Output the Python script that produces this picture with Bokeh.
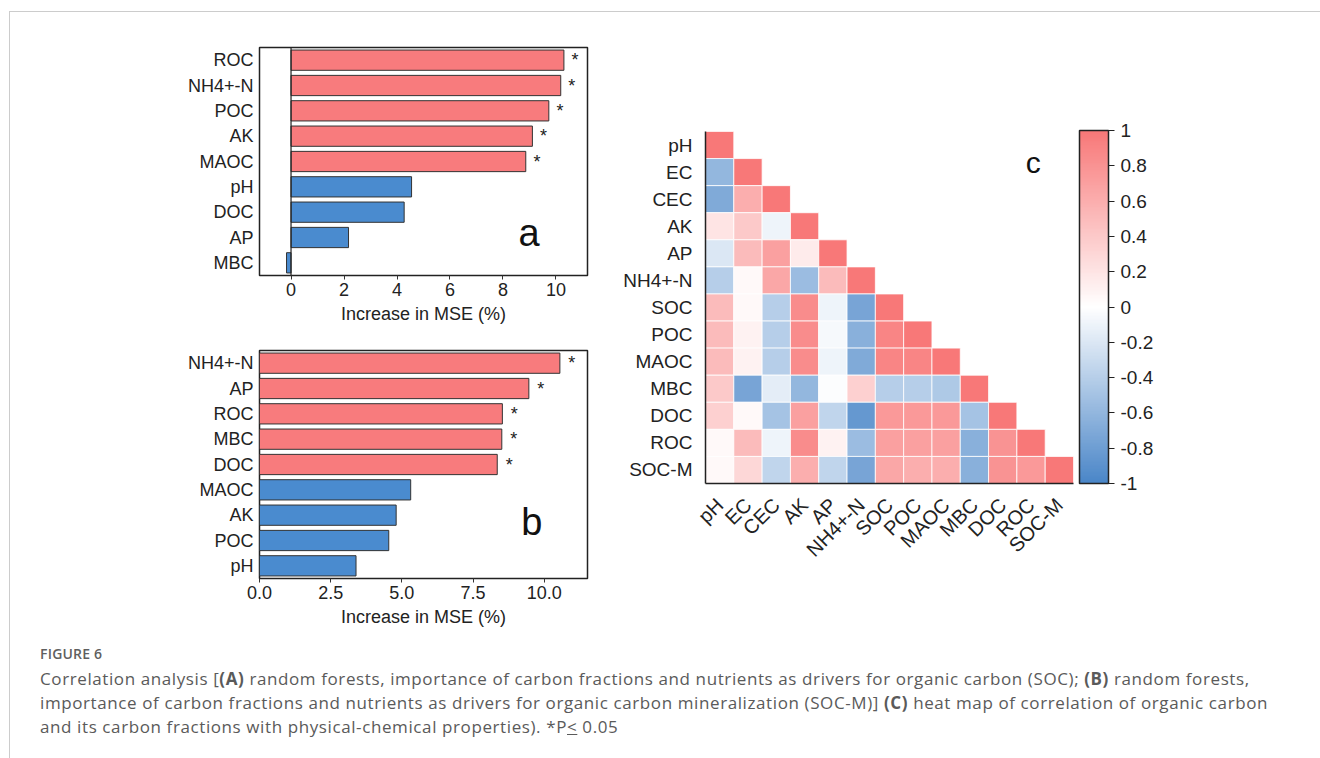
from bokeh.plotting import figure
from bokeh.models import (FactorRange, Range1d, Span, Label, ColorBar, LinearColorMapper,
                          FixedTicker, ColumnDataSource, Div)
from bokeh.layouts import column, row
from bokeh.embed import file_html
from bokeh.resources import INLINE
from bokeh.core.properties import value
import math

# ---------------- data ----------------
a_vars = ["ROC", "NH4+-N", "POC", "AK", "MAOC", "pH", "DOC", "AP", "MBC"]
a_vals = [10.30, 10.18, 9.73, 9.11, 8.86, 4.55, 4.27, 2.17, -0.17]
a_sig = [True, True, True, True, True, False, False, False, False]

b_vars = ["NH4+-N", "AP", "ROC", "MBC", "DOC", "MAOC", "AK", "POC", "pH"]
b_vals = [10.55, 9.46, 8.53, 8.51, 8.35, 5.31, 4.80, 4.54, 3.39]
b_sig = [True, True, True, True, True, False, False, False, False]

c_vars = ["pH", "EC", "CEC", "AK", "AP", "NH4+-N", "SOC", "POC", "MAOC", "MBC", "DOC", "ROC", "SOC-M"]
c_rows = [
    [1],
    [-0.60, 1],
    [-0.70, 0.60, 1],
    [0.20, 0.40, -0.10, 1],
    [-0.20, 0.50, 0.70, 0.15, 1],
    [-0.40, 0.05, 0.65, -0.55, 0.50, 1],
    [0.50, 0.05, -0.40, 0.85, -0.10, -0.75, 1],
    [0.50, 0.10, -0.40, 0.85, -0.05, -0.65, 0.90, 1],
    [0.50, 0.10, -0.40, 0.85, -0.10, -0.70, 0.90, 0.90, 1],
    [0.40, -0.75, -0.15, -0.60, -0.02, 0.35, -0.40, -0.40, -0.45, 1],
    [0.35, 0.05, -0.50, 0.70, -0.35, -0.85, 0.75, 0.75, 0.75, -0.50, 1],
    [0.05, 0.50, -0.10, 0.85, 0.10, -0.55, 0.70, 0.70, 0.70, -0.65, 0.80, 1],
    [0.05, 0.30, -0.35, 0.60, -0.35, -0.75, 0.65, 0.60, 0.60, -0.65, 0.80, 0.75, 1],
]
cb_ticks = [-1, -0.8, -0.6, -0.4, -0.2, 0, 0.2, 0.4, 0.6, 0.8, 1]
cb_labels = ["-1", "-0.8", "-0.6", "-0.4", "-0.2", "0", "0.2", "0.4", "0.6", "0.8", "1"]

RED = "#F87B7D"
BLUE = "#4A8BCF"
FONT = "Liberation Sans"


def bar_panel(vars_, vals, sig, xr, width, height, borders, xticks, tick_labels, letter, letter_pos):
    bl, br, bt, bb = borders
    p = figure(width=width, height=height, y_range=FactorRange(*reversed(vars_)),
               x_range=Range1d(*xr), output_backend="svg", toolbar_location=None,
               min_border_left=bl, min_border_right=br, min_border_top=bt, min_border_bottom=bb)
    colors = [RED if s else BLUE for s in sig]
    src = ColumnDataSource(dict(v=vars_, x=vals, c=colors))
    p.hbar(y="v", left=0, right="x", height=0.8, fill_color="c", line_color="#333333",
           line_width=1, source=src)
    sv = [v for v, s in zip(vars_, sig) if s]
    sx = [x + 0.42 for x, s in zip(vals, sig) if s]
    p.text(x=sx, y=sv, text=["*"] * len(sv), text_font=value(FONT), text_font_size="18px",
           text_align="center", text_baseline="middle", text_color="#222222")
    p.xgrid.visible = False
    p.ygrid.grid_line_color = None
    p.outline_line_color = "#222222"
    p.outline_line_width = 1.5
    p.xaxis.ticker = FixedTicker(ticks=xticks)
    p.xaxis.major_label_overrides = {t: l for t, l in zip(xticks, tick_labels)}
    p.xaxis.axis_label = "Increase in MSE (%)"
    for ax in (p.xaxis[0], p.yaxis[0]):
        ax.axis_line_color = None
        ax.major_label_text_font = FONT
        ax.major_label_text_font_size = "18px"
        ax.major_label_text_color = "#222222"
        ax.major_tick_line_color = "#333333"
        ax.minor_tick_line_color = None
        ax.major_tick_in = 0
    p.xaxis.major_tick_out = 4
    p.yaxis.major_tick_out = 0
    p.xaxis.major_label_standoff = 3
    p.yaxis.major_label_standoff = 6
    p.xaxis.axis_label_text_font = FONT
    p.xaxis.axis_label_text_font_size = "18px"
    p.xaxis.axis_label_text_font_style = "normal"
    p.xaxis.axis_label_text_color = "#222222"
    p.xaxis.axis_label_standoff = 5
    p.add_layout(Label(x=letter_pos[0], y=letter_pos[1], text=letter, text_font=FONT,
                       text_font_size="38px", text_align="center", text_baseline="middle",
                       text_color="#111111"))
    return p


pa = bar_panel(a_vars, a_vals, a_sig, (-1.19, 11.19), 610, 328, (243, 30, 35, 65),
               [0, 2, 4, 6, 8, 10], ["0", "2", "4", "6", "8", "10"], "a", (8.98, 1.66))
pa.add_layout(Span(location=0, dimension="height", line_color="#222222", line_width=1.2))

pb = bar_panel(b_vars, b_vals, b_sig, (0, 11.52), 610, 300, (249, 33, 10, 62),
               [0, 2.5, 5, 7.5, 10], ["0.0", "2.5", "5.0", "7.5", "10.0"], "b", (9.56, 2.24))

# ---------------- heatmap ----------------
def lerp(c1, c2, t):
    return "#%02x%02x%02x" % tuple(int(round(a + (b - a) * t)) for a, b in zip(c1, c2))

blue_rgb, white_rgb, red_rgb = (74, 134, 200), (255, 255, 255), (248, 120, 120)
palette = [lerp(blue_rgb, white_rgb, i / 127) for i in range(128)] + \
          [lerp(white_rgb, red_rgb, i / 127) for i in range(128)]
mapper = LinearColorMapper(palette=palette, low=-1, high=1)

xs, ys, vs = [], [], []
for i, r in enumerate(c_rows):
    for j, v in enumerate(r):
        xs.append(c_vars[j])
        ys.append(c_vars[i])
        vs.append(v)
hsrc = ColumnDataSource(dict(x=xs, y=ys, v=vs))

pc = figure(width=690, height=628, x_range=FactorRange(*c_vars),
            y_range=FactorRange(*reversed(c_vars)), output_backend="svg", toolbar_location=None,
            min_border_left=84, min_border_right=237, min_border_top=119, min_border_bottom=157)
pc.rect(x="x", y="y", width=1, height=1, source=hsrc,
        fill_color={"field": "v", "transform": mapper}, line_color="white", line_width=0.8)
pc.grid.visible = False
pc.outline_line_color = None
for ax in (pc.xaxis[0], pc.yaxis[0]):
    ax.axis_line_color = "#222222"
    ax.axis_line_width = 1.5
    ax.major_tick_line_color = None
    ax.minor_tick_line_color = None
    ax.major_label_text_font = FONT
    ax.major_label_text_font_size = "19px"
    ax.major_label_text_color = "#222222"
pc.xaxis.major_label_text_font_size = "20px"
pc.yaxis.major_label_standoff = 7
pc.xaxis.major_label_standoff = 12
pc.xaxis.major_label_orientation = math.pi / 4
pc.add_layout(Label(x=11.58, y=11.87, text="c", text_font=FONT, text_font_size="30px",
                    text_align="center", text_baseline="middle", text_color="#111111"))

cb = ColorBar(color_mapper=mapper, ticker=FixedTicker(ticks=cb_ticks),
              major_label_overrides={t: l for t, l in zip(cb_ticks, cb_labels)},
              width=29, height=353, location=(6, 0), padding=0, margin=0,
              bar_line_color="#222222", bar_line_width=1.5,
              major_tick_line_color="#222222", major_tick_in=0, major_tick_out=6,
              minor_tick_line_color=None, label_standoff=6,
              major_label_text_font=FONT, major_label_text_font_size="19px",
              major_label_text_color="#222222", background_fill_alpha=0,
              border_line_color=None)
pc.add_layout(cb, "right")

caption = Div(
    text=('<div style="font-size:14px;font-weight:600;color:#5f5f5f;line-height:18px;'
          'margin-top:0px;margin-bottom:4px;letter-spacing:0.2px">FIGURE 6</div>'
          '<div style="font-size:17px;line-height:24px;color:#5a5a5a;letter-spacing:0.6px">'
          'Correlation analysis [<b>(A)</b> random forests, importance of carbon fractions and '
          'nutrients as drivers for organic carbon (SOC); <b>(B)</b> random forests,<br>'
          'importance of carbon fractions and nutrients as drivers for organic carbon '
          'mineralization (SOC-M)] <b>(C)</b> heat map of correlation of organic carbon<br>'
          'and its carbon fractions with physical-chemical properties). *P<u>&lt;</u> 0.05</div>'),
    width=1300, height=112,
    styles={"font-family": "'Open Sans', sans-serif", "padding-left": "25px"})

layout = column(row(column(pa, pb), pc), caption,
                styles={"border-top": "1px solid #cccccc", "border-left": "1px solid #cccccc"},
                margin=(11, 0, 0, 9))

open("out.html", "w").write(file_html(layout, INLINE))
